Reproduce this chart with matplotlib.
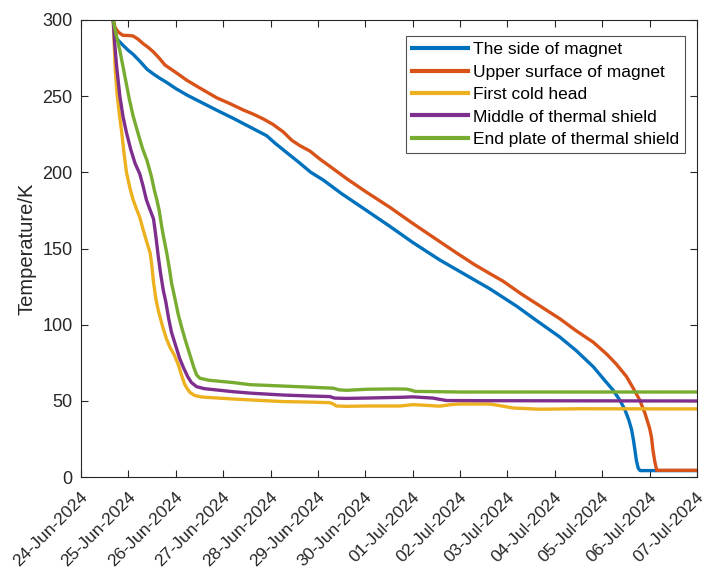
import matplotlib
matplotlib.use("Agg")
import matplotlib.pyplot as plt
import matplotlib.dates as mdates
import matplotlib.transforms as mtransforms
from datetime import datetime, timedelta

start_date = "2024-06-24"
n_days = 13

series_names = ["The side of magnet", "Upper surface of magnet", "First cold head",
                "Middle of thermal shield", "End plate of thermal shield"]
colors = ["#0072BD", "#D95319", "#EDB120", "#7E2F8E", "#77AC30"]

# days since start date, temperature (K)
side_days = [0.68, 0.71, 0.75, 0.79, 0.9, 1.0, 1.1, 1.24, 1.4, 1.53, 1.65, 1.81, 2.0, 2.25,
             2.51, 2.85, 3.21, 3.55, 3.92, 4.1, 4.3, 4.62, 4.85, 5.11, 5.5, 6.0, 6.52, 7.0,
             7.57, 8.1, 8.63, 9.2, 9.6, 10.1, 10.45, 10.81, 11.05, 11.23, 11.38, 11.48,
             11.56, 11.62, 11.66, 11.69, 11.72, 11.76, 11.80, 12.98]
side_temp = [300, 293, 288, 286.5, 283, 280, 277.5, 273, 267.5, 264.5, 262, 259, 255, 250.5,
             246.4, 241, 235.5, 230, 224, 219, 214, 206, 200, 195, 186, 175.5, 164.5, 154,
             142.5, 133, 123.5, 112, 103, 92, 83, 72.4, 63.5, 57, 50, 44,
             37.5, 31, 24, 17.7, 11, 5.7, 4.2, 4.2]

upper_days = [0.68, 0.72, 0.79, 0.88, 1.0, 1.10, 1.2, 1.31, 1.42, 1.53, 1.65, 1.77, 1.91,
              2.05, 2.23, 2.5, 2.86, 3.15, 3.42, 3.65, 3.85, 4.05, 4.27, 4.45, 4.62, 4.83,
              5.05, 5.25, 5.6, 6.0, 6.52, 7.0, 7.5, 7.93, 8.3, 8.63, 8.91, 9.3, 9.7, 10.1,
              10.45, 10.81, 11.1, 11.30, 11.51, 11.65, 11.79, 11.9, 11.96, 12.0, 12.04,
              12.07, 12.11, 12.15, 12.98]
upper_temp = [300, 295, 292, 290, 289.8, 289.5, 287.5, 284.5, 282, 279, 275, 270.5, 267.5,
              264.5, 260.5, 255.5, 249, 245, 241, 238, 235, 231.5, 226.5, 221, 217.5, 214,
              208.5, 204, 196, 187.5, 177, 166.5, 156, 147, 139.5, 133.5, 128.5, 120, 112, 104,
              96, 88.5, 80.5, 74, 66, 58.5, 50.6, 42, 36, 32, 26,
              17.7, 10, 4.4, 4.4]

cold_days = [0.68, 0.70, 0.72, 0.76, 0.81, 0.86, 0.91, 0.96, 1.03, 1.10, 1.17, 1.24, 1.31,
             1.39, 1.46, 1.49, 1.53, 1.58, 1.63, 1.72, 1.80, 1.88, 1.97, 2.05, 2.12, 2.18,
             2.23, 2.30, 2.40, 2.55, 2.8, 3.21, 3.57, 4.27, 4.8, 5.25, 5.32, 5.39, 5.6, 6.0,
             6.73, 7.01, 7.3, 7.57, 7.8, 7.99, 8.63, 8.85, 9.12, 9.68, 10.5, 12.98]
cold_temp = [300, 285, 269, 252, 238, 226, 212, 200, 190, 182, 176, 170.5, 162.5,
             154, 147, 140, 128, 117, 109.5, 99, 91, 85, 80, 74, 67, 61.5,
             58.5, 55.5, 53.5, 52.5, 52, 51.2, 50.6, 49.5, 49.2, 48.8, 48, 46.6, 46.4, 46.6,
             46.6, 47.5, 47, 46.5, 47.5, 47.9, 47.9, 46.8, 45.3, 44.5, 44.8, 44.7]

middle_days = [0.68, 0.71, 0.75, 0.82, 0.89, 0.96, 1.05, 1.14, 1.24, 1.31, 1.38, 1.45, 1.53,
               1.58, 1.63, 1.68, 1.74, 1.79, 1.85, 1.91, 2.0, 2.08, 2.16, 2.25, 2.33, 2.44,
               2.6, 3.21, 3.6, 4.27, 4.8, 5.25, 5.35, 5.6, 6.0, 6.73, 7.0, 7.43, 7.6, 7.72,
               8.5, 12.98]
middle_temp = [300, 285, 270, 250, 236, 226, 215, 206, 199, 191, 182, 176, 169.5,
               158, 145, 133.5, 122, 115, 104, 95, 86, 78, 72, 66, 62, 59.3,
               58, 56, 55, 53.8, 53.2, 52.8, 51.8, 51.6, 51.8, 52.3, 52.6, 51.8, 50.8, 50.2,
               50.1, 49.9]

end_days = [0.68, 0.73, 0.82, 0.92, 1.02, 1.10, 1.2, 1.3, 1.39, 1.48, 1.55, 1.60, 1.65,
            1.70, 1.74, 1.81, 1.87, 1.91, 1.99, 2.05, 2.12, 2.20, 2.30, 2.38, 2.44, 2.51,
            2.7, 3.21, 3.57, 4.27, 4.8, 5.32, 5.45, 5.6, 6.03, 6.6, 6.87, 6.97, 7.05, 8.0,
            12.98]
end_temp = [300, 292, 280, 264, 248, 237, 226, 215.5, 208, 198, 188, 182, 175,
            165, 158, 147, 136, 127.5, 116, 107, 98.7, 90, 80, 72, 67, 64.8,
            63.5, 62, 60.6, 59.7, 59, 58.3, 57.2, 56.9, 57.6, 57.8, 57.7, 57, 56.2, 55.8,
            55.8]

yticks = [0, 50, 100, 150, 200, 250, 300]

plt.rcParams['font.family'] = ['Liberation Sans', 'DejaVu Sans']

t0 = datetime.strptime(start_date, "%Y-%m-%d")
def to_dates(days):
    return [t0 + timedelta(days=float(d)) for d in days]

fig = plt.figure(figsize=(7.09, 5.77), dpi=100)
ax = fig.add_axes([81/709, 100/577, 616/709, 457/577])

all_days = [side_days, upper_days, cold_days, middle_days, end_days]
all_temp = [side_temp, upper_temp, cold_temp, middle_temp, end_temp]
for name, c, d, t in zip(series_names, colors, all_days, all_temp):
    ax.plot(to_dates(d), t, color=c, lw=2.4, label=name, solid_joinstyle='round')

ax.set_xlim(t0, t0 + timedelta(days=n_days))
ax.set_ylim(0, 300)
ax.set_yticks(yticks)
ax.xaxis.set_major_locator(mdates.DayLocator())
ax.xaxis.set_major_formatter(mdates.DateFormatter('%d-%b-%Y'))

axc = '#262626'
for s in ax.spines.values():
    s.set_color(axc)
    s.set_linewidth(0.8)
ax.tick_params(direction='in', length=5, width=0.8, colors=axc, top=True, right=True)
ax.tick_params(axis='y', labelsize=13, pad=6)
ax.tick_params(axis='x', labelsize=12.6, pad=12.5)
offset = mtransforms.ScaledTranslation(4.5/100, 0, fig.dpi_scale_trans)
for lbl in ax.get_xticklabels():
    lbl.set_rotation(45)
    lbl.set_ha('right')
    lbl.set_va('center')
    lbl.set_rotation_mode('anchor')
    lbl.set_transform(lbl.get_transform() + offset)

ax.set_ylabel('Temperature/K', fontsize=14.5, color=axc)
ax.yaxis.set_label_coords(-0.073, 0.5)

leg = ax.legend(loc='upper right', bbox_to_anchor=(0.9805, 0.965), fontsize=12.5,
                frameon=True, fancybox=False, handlelength=3.2, handletextpad=0.3,
                labelspacing=0.42, borderpad=0.35, borderaxespad=0.0)
leg.get_frame().set_edgecolor(axc)
leg.get_frame().set_linewidth(0.8)
for l in leg.get_lines():
    l.set_linewidth(3)

fig.savefig('out.png', dpi=100)
